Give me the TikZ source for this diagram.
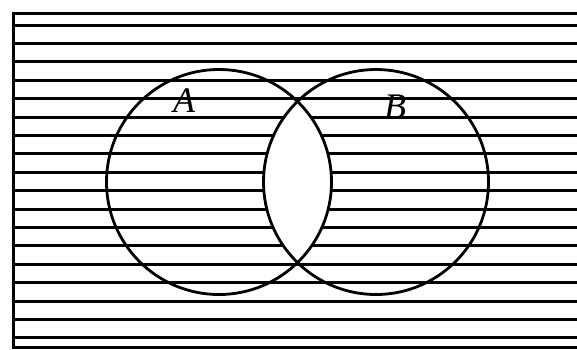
\documentclass[tikz,border=0pt]{standalone}
\usepackage{fontspec}
\setmainfont{Liberation Serif}
\begin{document}
\begin{tikzpicture}[x=1pt,y=-1pt,
  hatch/.style={line width=3pt, black},
  setcircle/.style={draw, circle, line width=2.8pt, minimum size=225pt, inner sep=0pt},
  setlabel/.style={font=\itshape\fontsize{36}{36}\selectfont, inner sep=0pt}]
\useasboundingbox (0,0) rectangle (577,349);
\clip (0,0) rectangle (577,349);
\fill[white] (0,0) rectangle (577,349);
% horizontal hatching of the universe
\foreach \k in {0,...,17}
  \draw[hatch] (13,25+18.4*\k) -- (585,25+18.4*\k);
% frame
\draw[hatch] (585,13) -- (13,13) -- (13,347) -- (585,347);
% white intersection
\begin{scope}
  \clip (219,182) circle (112.5);
  \fill[white] (376,182) circle (112.5);
\end{scope}
% circles
\node[setcircle] (A) at (219,182) {};
\node[setcircle] (B) at (376,182) {};
% labels
\node[setlabel] (la) at (184,101) {A};
\node[setlabel] (lb) at (395,107) {B};
\end{tikzpicture}
\end{document}
